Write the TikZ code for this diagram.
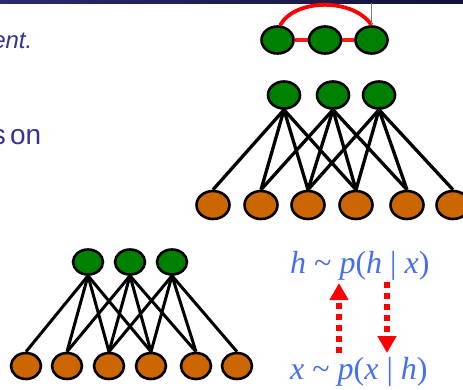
\documentclass[tikz,border=0pt]{standalone}
\usepackage{fontspec}
\setmainfont{Liberation Serif}
\setsansfont{Liberation Sans}
\usepackage{xcolor}
\usepackage{tikz}
\usetikzlibrary{shapes.geometric,arrows.meta,backgrounds}

\definecolor{unitgreen}{RGB}{0,128,0}
\definecolor{unitorange}{RGB}{204,102,0}
\definecolor{slideblue}{RGB}{51,51,153}
\definecolor{eqblue}{RGB}{70,110,245}
\definecolor{barleft}{RGB}{42,42,112}
\definecolor{barright}{RGB}{18,18,58}

\tikzset{
  hidden/.style={ellipse, draw=black, line width=2.6pt, fill=unitgreen, inner sep=0pt},
  visible/.style={ellipse, draw=black, line width=2.6pt, fill=unitorange, inner sep=0pt},
  wire/.style={line width=3.3pt, black},
  sample/.style={red, line width=6pt, dash pattern=on 6pt off 5pt,
    -{Triangle[length=17pt,width=18pt]}},
  eq/.style={eqblue, anchor=base west, inner sep=0pt, font=\fontsize{32}{36}\selectfont}
}

\begin{document}
\begin{tikzpicture}[x=1pt,y=-1pt]
  \useasboundingbox (0,0) rectangle (463,389);

  % Slide title bar (cropped)
  \shade[left color=barleft, right color=barright] (0,0) rectangle (463,3);

  % Leftover bullet text
  \node[slideblue, anchor=base east, inner sep=0pt,
    font=\sffamily\itshape\fontsize{24}{28}\selectfont] (bulleta) at (32.5,48) {ent.};
  \node[slideblue, anchor=base east, inner sep=0pt,
    font=\sffamily\fontsize{28}{32}\selectfont] (bulletb) at (41.5,144) {s\hspace{0.15em}on};

  % Chain of hidden units (top right)
  \foreach \x [count=\i] in {277.5,325,371.5}{
    \node[hidden, minimum width=32pt, minimum height=27pt] (c\i) at (\x,40) {};
  }
  \begin{scope}[on background layer]
    \draw[red!90, line width=3.4pt] (c1) -- (c2) -- (c3);
  \end{scope}
  \draw[red, line width=3.8pt] (c1.80) .. controls (295,-2) and (354,-2) .. (c3.north);
  \coordinate (bartop) at (371.5,3);
  \draw[gray, line width=1.4pt] (bartop) -- (c3.north);

  % Large RBM
  \foreach \x [count=\i] in {284,333,379}{
    \node[hidden, minimum width=32pt, minimum height=27pt] (h\i) at (\x,95) {};
  }
  \foreach \x [count=\i] in {213,261,308,356,407,453}{
    \node[visible, minimum width=33pt, minimum height=28pt] (v\i) at (\x,205) {};
  }
  \begin{scope}[on background layer]
    \foreach \i in {1,2,3}{
      \foreach \j in {0,...,3}{
        \pgfmathtruncatemacro\k{\i+\j}
        \draw[wire] (h\i.south) -- (v\k.north);
      }
    }
  \end{scope}

  % Small RBM
  \foreach \x [count=\i] in {88,130,172}{
    \node[hidden, minimum width=30pt, minimum height=25pt] (sh\i) at (\x,262) {};
  }
  \foreach \x [count=\i] in {26,67,109,151,196,237}{
    \node[visible, minimum width=30pt, minimum height=26pt] (sv\i) at (\x,366) {};
  }
  \begin{scope}[on background layer]
    \foreach \i in {1,2,3}{
      \foreach \j in {0,...,3}{
        \pgfmathtruncatemacro\k{\i+\j}
        \draw[wire, line width=3pt] (sh\i.south) -- (sv\k.north);
      }
    }
  \end{scope}

  % Gibbs sampling
  \node[eq] (hgx) at (290,273) {\textit{h} \textasciitilde\ \textit{p}(\textit{h} | \textit{x})};
  \node[eq] (xgh) at (290,379) {\textit{x} \textasciitilde\ \textit{p}(\textit{x} | \textit{h})};
  \coordinate (upfrom) at (339,353);
  \coordinate (upto) at (339,283);
  \coordinate (downfrom) at (387,282);
  \coordinate (downto) at (387,353);
  \draw[sample] (upfrom) -- (upto);
  \draw[sample] (downfrom) -- (downto);
\end{tikzpicture}
\end{document}
